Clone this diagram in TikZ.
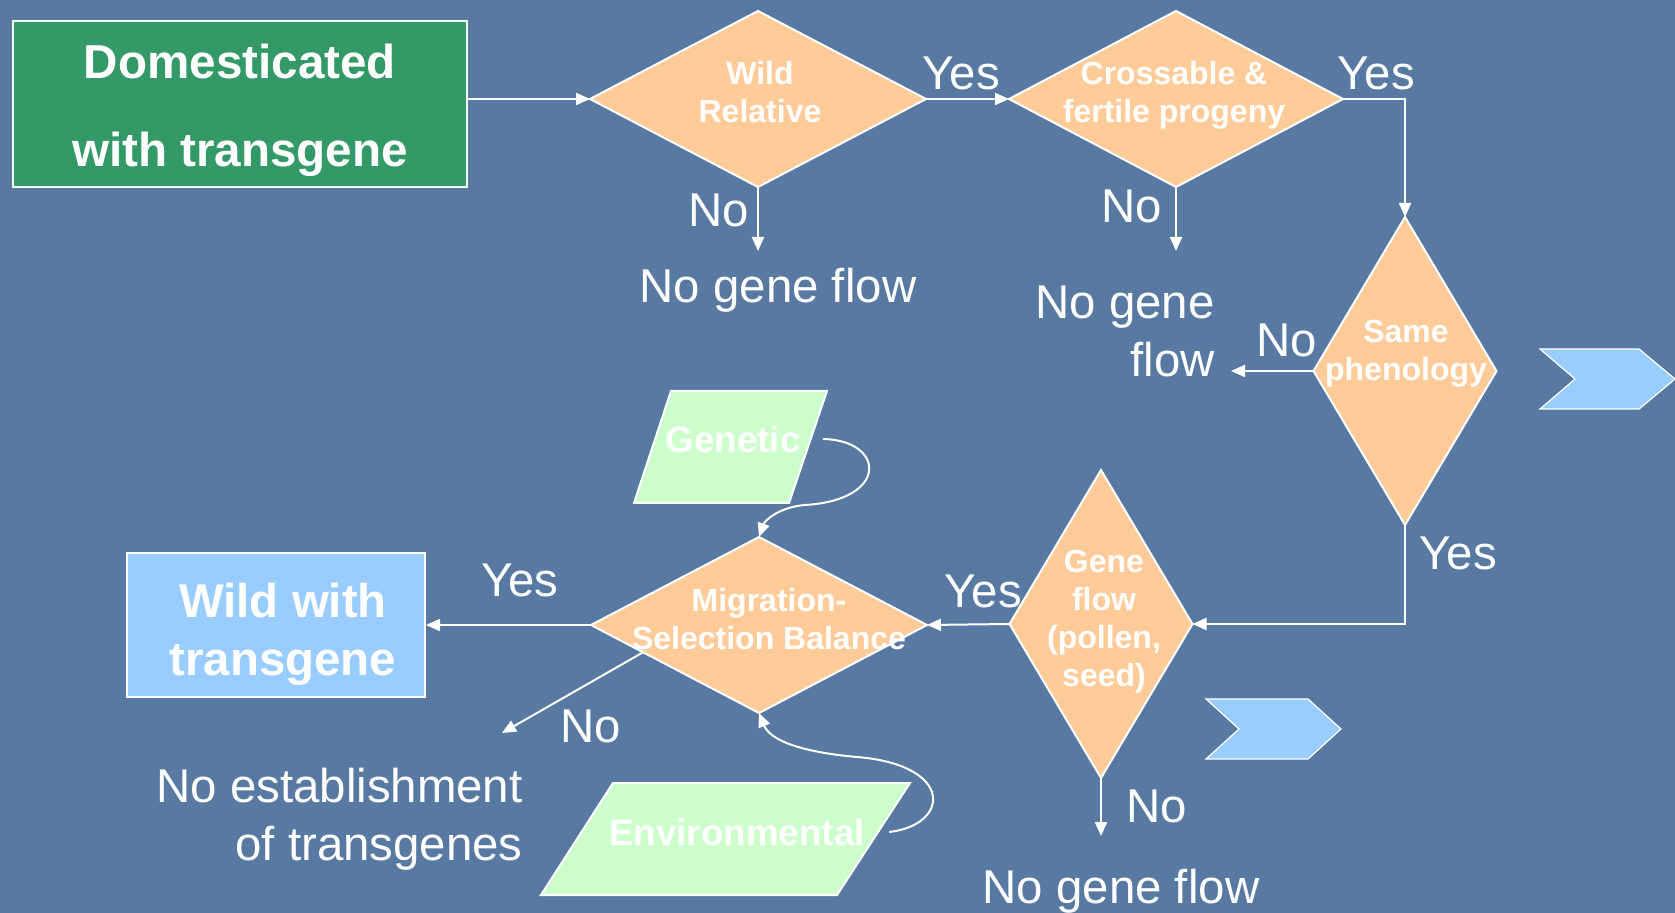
\documentclass[tikz,border=0pt]{standalone}
\usepackage{fontspec}
\setmainfont{Liberation Sans}
\usetikzlibrary{shapes.geometric,arrows.meta,calc}
\definecolor{slide}{RGB}{88,122,162}
\definecolor{peach}{RGB}{255,204,153}
\definecolor{leaf}{RGB}{51,153,102}
\definecolor{sky}{RGB}{153,204,255}
\definecolor{mint}{RGB}{204,255,204}
\begin{document}
\begin{tikzpicture}[x=0.5pt,y=-0.5pt,
  decision/.style={diamond,draw=white,line width=1pt,fill=peach,inner sep=0pt,outer sep=0pt},
  dtext/.style={text=white,font=\bfseries\fontsize{16}{19}\selectfont,align=center,inner sep=0pt},
  lbl/.style={text=white,font=\fontsize{23.7}{29}\selectfont,inner sep=0pt},
  flow/.style={draw=white,line width=1pt,-{Triangle[length=7pt,width=6pt]}},
  endbox/.style={draw=white,line width=1pt,inner sep=0pt},
  boxtext/.style={text=white,align=center,inner sep=0pt},
  slant/.style={draw=white,line width=1pt,fill=mint},
  chevron/.style={draw=white,line width=0.6pt,fill=sky}]
\fill[slide] (0,0) rectangle (1675,913);
\useasboundingbox (0,0) rectangle (1675,913);

\node[endbox,fill=leaf,minimum width=227pt,minimum height=83pt] (dom) at (240,104) {};
\node[boxtext,font=\bfseries\fontsize{23.8}{44}\selectfont] (domtxt) at (240,110) {Domesticated\\with transgene};
\node[endbox,fill=sky,minimum width=149pt,minimum height=72pt] (wwt) at (276,625) {};
\node[boxtext,font=\bfseries\fontsize{23.7}{29}\selectfont] (wwttxt) at (283,634) {Wild with\\transgene};

\node[decision,minimum width=168pt,minimum height=88pt] (wild) at (758,99) {};
\node[decision,minimum width=167pt,minimum height=88pt] (cross) at (1176,99) {};
\node[decision,minimum width=91.5pt,minimum height=154pt] (pheno) at (1405,371) {};
\node[decision,minimum width=91.5pt,minimum height=154pt] (gene) at (1101,624) {};
\node[decision,minimum width=168pt,minimum height=88pt] (mig) at (759,625) {};

\node[dtext] (wildtxt) at (760,92) {Wild\\Relative};
\node[dtext] (crosstxt) at (1174,95) {Crossable \&\\fertile progeny};
\node[dtext] (phenotxt) at (1406,354) {Same\\phenology};
\node[dtext] (genetxt) at (1104,622) {Gene\\flow\\(pollen,\\seed)};
\node[dtext] (migtxt) at (769,619) {Migration-\\Selection Balance};

\filldraw[slant] (671,391) -- (827,391) -- (789,503) -- (634,503) -- cycle;
\filldraw[slant] (613,783) -- (910,783) -- (837,895) -- (541,895) -- cycle;
\node[dtext,font=\bfseries\fontsize{18.4}{22}\selectfont] (genetic) at (733,439) {Genetic};
\node[dtext,font=\bfseries\fontsize{18.4}{22}\selectfont] (envir) at (737,832) {Environmental};

\filldraw[chevron] (1540,349) -- (1639,349) -- (1675,379) -- (1639,409) -- (1540,409) -- (1575,379) -- cycle;
\filldraw[chevron] (1206,699) -- (1308,699) -- (1341,729) -- (1308,759) -- (1206,759) -- (1239,729) -- cycle;

\coordinate (nowild) at (758,251);
\coordinate (nocross) at (1176,251);
\coordinate (nopheno) at (1231,371);
\coordinate (nogene) at (1101,836);
\coordinate (noest) at (502,733);

\draw[flow] (dom.east |- wild.west) -- (wild.west);
\draw[flow] (wild.east) -- (cross.west);
\draw[flow] (cross.east) -| (pheno.north);
\draw[flow] (pheno.south) |- (gene.east);
\draw[flow] (gene.west) -- (mig.east);
\draw[flow] (mig.west) -- (wwt.east);
\draw[flow] (wild.south) -- (nowild);
\draw[flow] (cross.south) -- (nocross);
\draw[flow] (pheno.west) -- (nopheno);
\draw[flow] (gene.south) -- (nogene);
\draw[flow] ($(mig.west)!0.31!(mig.south)$) -- (noest);
\draw[flow] ([xshift=11pt]genetic.east) .. controls (885,440) and (890,500) .. (805,505)
  .. controls (780,507) and (765,520) .. (mig.north);
\draw[flow] ([xshift=12pt]envir.east) .. controls (950,825) and (955,765) .. (857,757)
  .. controls (800,752) and (770,740) .. (mig.south);

\node[lbl] (yes1) at (961,73) {Yes};
\node[lbl] (yes2) at (1376,73) {Yes};
\node[lbl] (no1) at (719,210) {No};
\node[lbl] (nogf1) at (778,290) {No gene flow};
\node[lbl] (no2) at (1132,206) {No};
\node[lbl,align=right,anchor=east] (nogf2) at (1215,331) {No gene\\flow};
\node[lbl] (no3) at (1287,340) {No};
\node[lbl] (yes3) at (1458,553) {Yes};
\node[lbl] (yes4) at (983,591) {Yes};
\node[lbl] (yes5) at (520,580) {Yes};
\node[lbl] (no4) at (591,726) {No};
\node[lbl,align=right,anchor=east] (noesttxt) at (523,819) {No establishment\\of transgenes};
\node[lbl] (no5) at (1157,806) {No};
\node[lbl] (nogf3) at (1121,891) {No gene flow};
\end{tikzpicture}
\end{document}
